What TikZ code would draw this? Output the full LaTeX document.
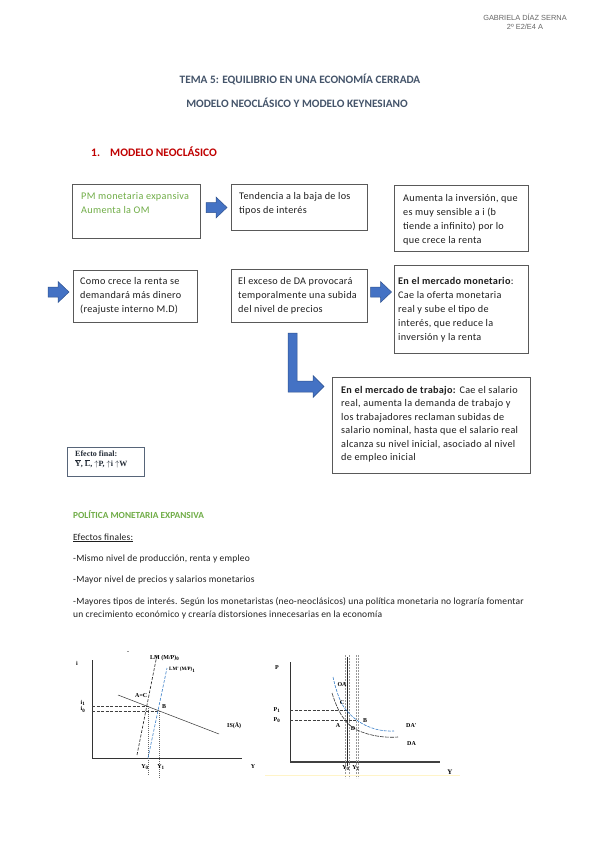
\documentclass[tikz,border=0pt]{standalone}
\usepackage{fontspec}
\setmainfont{Carlito}
\newfontfamily\hdrfont{Liberation Sans}
\newfontfamily\serf{Liberation Serif}
\usetikzlibrary{calc}
\definecolor{titlec}{HTML}{44546A}
\definecolor{redc}{HTML}{C00000}
\definecolor{greenc}{HTML}{70AD47}
\definecolor{boxc}{HTML}{595959}
\definecolor{arrf}{HTML}{4472C4}
\definecolor{arrd}{HTML}{2F528F}
\definecolor{bodyc}{HTML}{1E1E1E}
\definecolor{ltblue}{HTML}{3A7FC8}
\definecolor{faint}{HTML}{FFF4C8}
\newcommand\blockarr[3]{%
  \draw[arrowst] (#1,#2-5) -- (#1+10,#2-5) -- (#1+10,#2-10.5) -- (#1+21,#2)
    -- (#1+10,#2+10.5) -- (#1+10,#2+5) -- (#1,#2+5) -- cycle;}
\newcommand\ovl[1]{$\overline{\mbox{#1}}$}
\newcommand\upa{$\uparrow$}
\begin{document}
\begin{tikzpicture}[x=1pt,y=-1pt,
  box/.style={draw=boxc, line width=0.8pt, inner sep=0pt, fill=white, anchor=north west},
  boxtxt/.style={anchor=north west, inner sep=0pt, align=left, text=bodyc, font=\fontsize{10.2}{14}\selectfont\addfontfeatures{LetterSpace=3}},
  arrowst/.style={fill=arrf, draw=arrd, line width=0.5pt},
  bodytxt/.style={anchor=base west, inner sep=0pt, text=bodyc, font=\fontsize{9.5}{11}\selectfont\addfontfeatures{LetterSpace=2}},
  glab/.style={inner sep=0pt, font=\serf\bfseries\fontsize{6}{7}\selectfont},
  gaxis/.style={draw=black!80, line width=0.7pt},
  gdash/.style={draw=black!75, line width=0.4pt, dash pattern=on 3pt off 1.5pt},
  gdot/.style={draw=black!60, line width=0.3pt, dash pattern=on 1pt off 1pt}
]
\useasboundingbox[fill=white] (0,0) rectangle (599,848);

% header
\node[inner sep=0pt, anchor=base, text=black!60, font=\hdrfont\fontsize{7.4}{8}\selectfont] (h1) at (525,20.5) {GABRIELA DÍAZ SERNA};
\node[inner sep=0pt, anchor=base, text=black!60, font=\hdrfont\fontsize{7.4}{8}\selectfont] (h2) at (525,29.5) {2º E2/E4 A};

% titles
\node[inner sep=0pt, anchor=base, text=titlec, font=\bfseries\fontsize{11.3}{13}\selectfont] (t1) at (300,84) {TEMA 5: EQUILIBRIO EN UNA ECONOMÍA CERRADA};
\node[inner sep=0pt, anchor=base, text=titlec, font=\bfseries\fontsize{11.3}{13}\selectfont] (t2) at (297,107.5) {MODELO NEOCLÁSICO Y MODELO KEYNESIANO};
\node[inner sep=0pt, anchor=base west, text=redc, font=\bfseries\fontsize{11.5}{13}\selectfont] (s1n) at (91,157) {1.};
\node[inner sep=0pt, anchor=base west, text=redc, font=\bfseries\fontsize{11.5}{13}\selectfont] (s1) at (110,157) {MODELO NEOCLÁSICO};

% boxes row 1
\node[box, minimum width=128pt, minimum height=54pt] (b1) at (72,184) {};
\node[boxtxt, text=greenc] (b1t) at (81,189.2) {\strut PM monetaria expansiva\\Aumenta la OM};
\node[box, minimum width=136pt, minimum height=46pt] (b2) at (231,184) {};
\node[boxtxt] (b2t) at (239,189.2) {\strut Tendencia a la baja de los\\tipos de interés};
\node[box, minimum width=134pt, minimum height=66pt] (b3) at (394,185) {};
\node[boxtxt] (b3t) at (403,191.2) {\strut Aumenta la inversión, que\\es muy sensible a i (b\\tiende a infinito) por lo\\que crece la renta};
\blockarr{206}{207.5}
\blockarr{370}{207.5}

% boxes row 2
\node[box, minimum width=124pt, minimum height=52pt] (b4) at (73,270) {};
\node[boxtxt] (b4t) at (80,274.7) {\strut Como crece la renta se\\demandará más dinero\\(reajuste interno M.D)};
\node[box, minimum width=136pt, minimum height=53pt] (b5) at (231,269) {};
\node[boxtxt] (b5t) at (238,274.7) {\strut El exceso de DA provocará\\temporalmente una subida\\del nivel de precios};
\node[box, minimum width=134pt, minimum height=88pt] (b6) at (394,265) {};
\node[boxtxt] (b6t) at (398,274.2) {\strut\textbf{En el mercado monetario}:\\Cae la oferta monetaria\\real y sube el tipo de\\interés, que reduce la\\inversión y la renta};
\blockarr{48}{292}
\blockarr{205}{292}
\blockarr{370.5}{292}

% L arrow
\draw[arrowst] (288,333) -- (297,333) -- (297,381) -- (313,381) -- (313,375.5)
  -- (324,386.5) -- (313,397.5) -- (313,392) -- (288,392) -- cycle;

% box 7
\node[box, minimum width=198pt, minimum height=96pt] (b7) at (332,377) {};
\node[boxtxt, font=\fontsize{10.2}{13.5}\selectfont\addfontfeatures{LetterSpace=3}] (b7t) at (341,383.5) {\strut\textbf{En el mercado de trabajo:} Cae el salario\\real, aumenta la demanda de trabajo y\\los trabajadores reclaman subidas de\\salario nominal, hasta que el salario real\\alcanza su nivel inicial, asociado al nivel\\de empleo inicial};

% efecto final
\node[draw=titlec!90, line width=1.3pt, minimum width=77pt, minimum height=29pt, inner sep=0pt, anchor=north west] (ef) at (67,447) {};
\node[inner sep=0pt, anchor=north west, align=left, font=\serf\bfseries\fontsize{8}{10}\selectfont, text=titlec!50!black] (eft) at (75,451) {Efecto final:\\\ovl{Y}, \ovl{L}, \upa P, \upa i \upa W};

% body text
\node[bodytxt, text=greenc, font=\bfseries\fontsize{9.3}{10}\selectfont] (p0) at (73,518) {POLÍTICA MONETARIA EXPANSIVA};
\node[bodytxt] (p1) at (73,540) {\underline{Efectos finales:}};
\node[bodytxt] (p2) at (73,561) {-Mismo nivel de producción, renta y empleo};
\node[bodytxt] (p3) at (73,582) {-Mayor nivel de precios y salarios monetarios};
\node[bodytxt] (p4) at (73,604) {-Mayores tipos de interés. Según los monetaristas (neo-neoclásicos) una política monetaria no lograría fomentar};
\node[bodytxt] (p5) at (73,617) {un crecimiento económico y crearía distorsiones innecesarias en la economía};

% ---------- graph 1 : IS-LM ----------
\coordinate (g1o) at (92,758);
\coordinate (g1t) at (92,660);
\coordinate (g1r) at (242,758);
\draw[gaxis] (g1t) -- (g1o) -- (g1r);
\coordinate (A1) at (148,706);
\coordinate (B1) at (159,711);
\draw[gdash] (92,706) -- (A1);
\draw[gdash] (92,711) -- (B1);
\draw[gdot] (A1) -- (148,776);
\draw[gdot] (B1) -- (159,778);
\draw[draw=black!85, line width=0.6pt, dash pattern=on 3pt off 1.5pt] (137,755) -- (157,655);
\draw[draw=ltblue, line width=0.6pt, dash pattern=on 3pt off 1.5pt] (148,758) -- (167,668);
\draw[draw=black!80, line width=0.5pt] (118,695) -- (219,734);
\node[glab] (l_i) at (77,663) {i};
\node[glab] (l_i1) at (83,703) {i\textsubscript{1}};
\node[glab] (l_i0) at (83,709.5) {i\textsubscript{0}};
\node[glab] (l_dash) at (128,653) {-};
\node[glab, anchor=west] (l_lm) at (150,658) {LM (M/P)\textsubscript{0}};
\node[glab, anchor=west, font=\serf\bfseries\fontsize{5}{6}\selectfont] (l_lm1) at (169,670) {LM' (M/P)\textsubscript{1}};
\node[glab, anchor=west] (l_ac) at (135,695.5) {A=C};
\node[glab, anchor=west] (l_b) at (162,707) {B};
\node[glab, anchor=west] (l_is) at (227,726) {IS(Ā)};
\node[glab] (l_y0) at (145,767) {Y\textsubscript{0}};
\node[glab] (l_y1) at (161,767) {Y\textsubscript{1}};
\node[glab] (l_y) at (253,767) {Y};

% ---------- graph 2 : DA-OA ----------
\draw[draw=black!80, line width=0.5pt] (290,662) -- (290,762);
\draw[draw=black!75, line width=1.5pt] (290,762) -- (440,762);
\draw[draw=black!40, line width=0.4pt, dash pattern=on 2pt off 1pt] (345.3,655) -- (345.3,778);
\draw[draw=black!40, line width=0.4pt, dash pattern=on 2pt off 1pt] (348.7,655) -- (348.7,778);
\draw[draw=black!85, line width=1pt] (347,657) -- (347,766);
\draw[draw=black!40, line width=0.4pt, dash pattern=on 2pt off 1pt] (355.8,655) -- (355.8,778);
\draw[draw=black!40, line width=0.4pt, dash pattern=on 2pt off 1pt] (358.4,655) -- (358.4,778);
\coordinate (C2) at (347,710);
\coordinate (A2) at (347,720);
\coordinate (B2) at (357,720);
\draw[gdash] (290,710) -- (C2);
\draw[gdash] (290,720) -- (B2);
\draw[draw=black!80, line width=0.6pt, dash pattern=on 4pt off 1pt] (332,693) .. controls (338,712) and (345,724) .. (357,730) .. controls (370,736) and (385,738) .. (398,737);
\draw[draw=ltblue, line width=0.6pt, dash pattern=on 3pt off 1.2pt] (333,677) .. controls (337,695) and (342,706) .. (347,711) .. controls (358,724) and (375,732) .. (394,731);
\node[glab] (l_p) at (277,668) {P};
\node[glab] (l_p1) at (277,710) {P\textsubscript{1}};
\node[glab] (l_p0) at (277,720) {P\textsubscript{0}};
\node[glab] (l_oa) at (342,685) {OA};
\node[glab] (l_c) at (342,703) {C};
\node[glab] (l_a) at (338,726) {A};
\node[glab] (l_b2) at (365,721) {B};
\node[glab] (l_d) at (353,729) {D};
\node[glab, anchor=west] (l_da1) at (406,726) {DA'};
\node[glab, anchor=west] (l_da) at (407,744) {DA};
\node[glab] (l_y02) at (346,768) {Y\textsubscript{0}};
\node[glab] (l_y12) at (356,768) {Y\textsubscript{1}};
\node[glab, font=\serf\bfseries\fontsize{7}{8}\selectfont] (l_y2) at (450,772) {Y};
\draw[draw=faint, line width=0.6pt] (265,775) -- (460,775);
\end{tikzpicture}
\end{document}
